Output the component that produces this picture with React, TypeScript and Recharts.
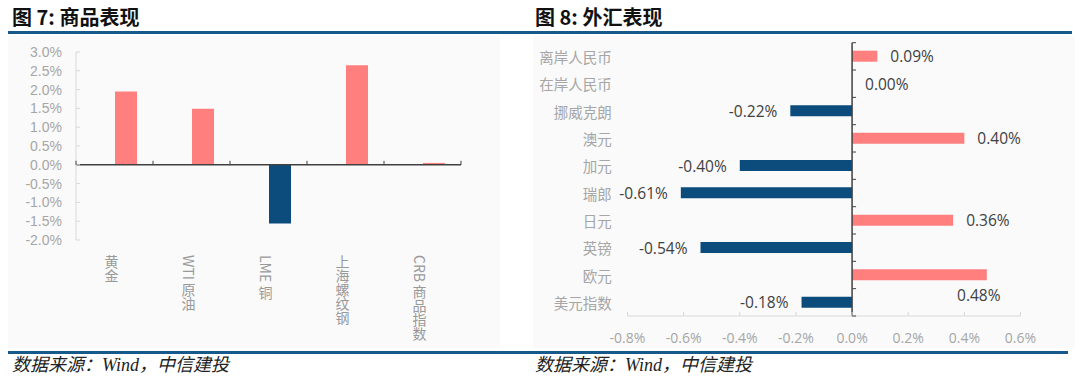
import React from 'react';
import { BarChart, Bar, XAxis, YAxis, ReferenceLine, LabelList, Rectangle } from 'recharts';

// 图7 商品表现
const commodityNames = ['黄金', 'WTI 原油', 'LME 铜', '上海螺纹钢', 'CRB 商品指数'];
const commodityChanges = [1.95, 1.49, -1.56, 2.65, 0.05];
const commodityTicks = [-2, -1.5, -1, -0.5, 0, 0.5, 1, 1.5, 2, 2.5, 3];

// 图8 外汇表现
const fxNames = ['离岸人民币', '在岸人民币', '挪威克朗', '澳元', '加元', '瑞郎', '日元', '英镑', '欧元', '美元指数'];
const fxChanges = [0.09, 0.0, -0.22, 0.4, -0.4, -0.61, 0.36, -0.54, 0.48, -0.18];
const fxTicks = [-0.8, -0.6, -0.4, -0.2, 0, 0.2, 0.4, 0.6];

const UP = '#FF7F7F';
const DOWN = '#0B4C7C';
const NAVY = '#17598A';
const AXIS_GRAY = '#d9d9d9';
const TICK_GRAY = '#a6a6a6';
const CJK = '"Noto Sans CJK SC", "Noto Sans", sans-serif';

const commodityData = commodityNames.map((name, i) => ({ name, value: commodityChanges[i] }));
const fxData = fxNames.map((name, i) => ({ name, value: fxChanges[i] }));

// left chart geometry
const L_W = 520;
const L_H = 350;
const L_MARGIN = { top: 52, right: 59, bottom: 80, left: 16 };
const L_YAXIS_W = 60;
const L_PLOT_W = L_W - L_MARGIN.left - L_MARGIN.right - L_YAXIS_W;
const L_PLOT_H = L_H - L_MARGIN.top - L_MARGIN.bottom - 30;
const L_BAND = L_PLOT_W / commodityNames.length;
const L_ZERO_Y = L_MARGIN.top + (L_PLOT_H * 3) / 5;

// right chart geometry
const R_W = 560;
const R_H = 350;
const R_MARGIN = { top: 42.7, right: 59.5, bottom: 4, left: 0 };
const R_YAXIS_W = 107.5;
const R_PLOT_W = R_W - R_MARGIN.left - R_MARGIN.right - R_YAXIS_W;
const R_PLOT_H = R_H - R_MARGIN.top - R_MARGIN.bottom - 30;
const R_BAND = R_PLOT_H / fxNames.length;
const R_ZERO_X = R_MARGIN.left + R_YAXIS_W + (R_PLOT_W * 0.8) / 1.4;
const R_PLOT_RIGHT = R_W - R_MARGIN.right;

const LeftYTick = (props: any) => {
  const { x, y, payload } = props;
  return (
    <g>
      <line x1={x + 14} x2={x + 18} y1={y} y2={y} stroke={AXIS_GRAY} />
      <text x={x} y={y} textAnchor="end" dominantBaseline="central" fill={TICK_GRAY}
        fontSize={14} fontFamily='"Liberation Sans", Arial, sans-serif'>
        {payload.value.toFixed(1)}%
      </text>
    </g>
  );
};

const LeftXTick = (props: any) => {
  const { x, y, payload, index } = props;
  return (
    <g>
      <line x1={x - L_BAND / 2} x2={x - L_BAND / 2} y1={L_ZERO_Y} y2={L_ZERO_Y - 4} stroke="#404040" />
      {index === commodityNames.length - 1 && (
        <line x1={x + L_BAND / 2} x2={x + L_BAND / 2} y1={L_ZERO_Y} y2={L_ZERO_Y - 4} stroke="#404040" />
      )}
      <text x={x - 3} y={y + 15} fill="#999" fontSize={14} fontFamily={CJK}
        style={{ writingMode: 'vertical-rl', textOrientation: 'mixed' } as any}>
        {payload.value}
      </text>
    </g>
  );
};

const OffsetBar = (props: any) => (
  <Rectangle {...props} x={props.x + props.width / 2} fill={props.payload.value >= 0 ? UP : DOWN} />
);

const RightYTick = (props: any) => {
  const { x, y, payload, index } = props;
  return (
    <g>
      <line x1={R_ZERO_X} x2={R_ZERO_X + 4} y1={y - R_BAND / 2} y2={y - R_BAND / 2} stroke="#404040" />
      {index === fxNames.length - 1 && (
        <line x1={R_ZERO_X} x2={R_ZERO_X + 4} y1={y + R_BAND / 2} y2={y + R_BAND / 2} stroke="#404040" />
      )}
      <text x={x} y={y} textAnchor="end" dominantBaseline="central" fill={TICK_GRAY}
        fontSize={14.5} fontFamily={CJK}>
        {payload.value}
      </text>
    </g>
  );
};

const RightXTick = (props: any) => {
  const { x, y, payload } = props;
  return (
    <g>
      <line x1={x} x2={x} y1={y} y2={y - 4} stroke={AXIS_GRAY} />
      <text x={x} y={y + 21} textAnchor="middle" dominantBaseline="central" fill={TICK_GRAY}
        fontSize={14} fontFamily='"Open Sans", sans-serif'>
        {payload.value.toFixed(1)}%
      </text>
    </g>
  );
};

const FxLabel = (props: any) => {
  const { x, y, width, height, value } = props;
  const left = Math.min(x, x + width);
  const right = Math.max(x, x + width);
  const cy = y + height / 2;
  const text = `${value.toFixed(2)}%`;
  const common = { fill: '#404040', fontSize: 15.5, fontFamily: '"Open Sans", sans-serif', dominantBaseline: 'central' as const };
  if (value < 0) {
    return <text x={left - 13} y={cy} textAnchor="end" {...common}>{text}</text>;
  }
  // no room on the right: drop the label under the bar
  if (right + 13 + 46 > R_PLOT_RIGHT + 12) {
    return <text x={right - 8} y={cy + 20} textAnchor="middle" {...common}>{text}</text>;
  }
  return <text x={right + 13} y={cy} textAnchor="start" {...common}>{text}</text>;
};

const Title = ({ left, num, text }: { left: number; num: string; text: string }) => (
  <div style={{ position: 'absolute', left, top: 5, fontFamily: CJK, fontWeight: 700, fontSize: 20, lineHeight: '24px', color: '#111' }}>
    图 {num}: {text}
  </div>
);

const Footer = ({ left }: { left: number }) => (
  <div style={{ position: 'absolute', left, top: 354, fontFamily: '"Liberation Serif", ' + CJK, fontStyle: 'italic', fontSize: 18, lineHeight: '22px', color: '#222' }}>
    数据来源：Wind，中信建投
  </div>
);

export default function App() {
  return (
    <div style={{ position: 'absolute', left: 0, top: 0, width: 1080, height: 385, background: '#fff', overflow: 'hidden' }}>
      <div style={{ position: 'absolute', left: 8, top: 36, width: 492, height: 312, background: '#fafafa' }} />
      <div style={{ position: 'absolute', left: 533, top: 36, width: 542, height: 312, background: '#fafafa' }} />
      <Title left={12} num="7" text="商品表现" />
      <Title left={535} num="8" text="外汇表现" />
      <div style={{ position: 'absolute', left: 8, top: 31, width: 1064, height: 3, background: NAVY }} />
      <div style={{ position: 'absolute', left: 8, top: 351, width: 1060, height: 3, background: NAVY }} />
      <Footer left={12} />
      <Footer left={535} />

      <div style={{ position: 'absolute', left: 0, top: 0 }}>
        <BarChart width={L_W} height={L_H} data={commodityData} margin={L_MARGIN} barSize={22}>
          <YAxis type="number" domain={[-2, 3]} ticks={commodityTicks} width={L_YAXIS_W}
            axisLine={{ stroke: AXIS_GRAY }} tickLine={false} tickSize={0} tickMargin={14}
            tick={<LeftYTick />} interval={0} />
          <XAxis dataKey="name" type="category" height={30} axisLine={false} tickLine={false}
            tickSize={0} tickMargin={0} interval={0} tick={<LeftXTick />} />
          <Bar dataKey="value" isAnimationActive={false} shape={<OffsetBar />} />
          <ReferenceLine y={0} stroke="#404040" strokeWidth={1.5} />
        </BarChart>
      </div>

      <div style={{ position: 'absolute', left: 520, top: 0 }}>
        <BarChart width={R_W} height={R_H} data={fxData} layout="vertical" margin={R_MARGIN} barSize={11}>
          <XAxis type="number" domain={[-0.8, 0.6]} ticks={fxTicks} height={30}
            axisLine={{ stroke: AXIS_GRAY }} tickLine={false} tickSize={0} tickMargin={0}
            interval={0} tick={<RightXTick />} />
          <YAxis type="category" dataKey="name" width={R_YAXIS_W} axisLine={false} tickLine={false}
            tickSize={0} tickMargin={15.8} interval={0} tick={<RightYTick />} />
          <Bar dataKey="value" isAnimationActive={false} shape={(p: any) => (
            <Rectangle {...p} fill={p.payload.value >= 0 ? UP : DOWN} />
          )}>
            <LabelList dataKey="value" content={<FxLabel />} />
          </Bar>
          <ReferenceLine x={0} stroke="#404040" strokeWidth={1.5} />
        </BarChart>
      </div>
    </div>
  );
}
